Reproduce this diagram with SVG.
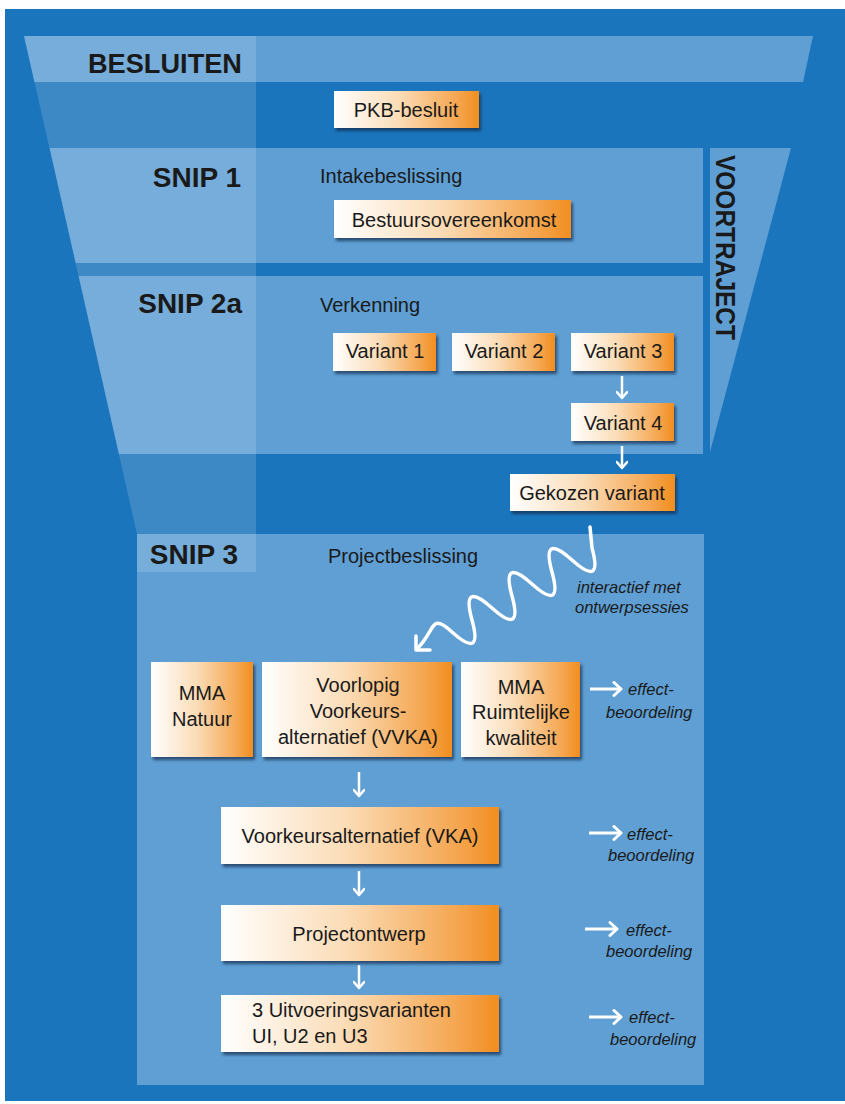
<svg xmlns="http://www.w3.org/2000/svg" width="845" height="1104" viewBox="0 0 845 1104">
<defs>
<style>
.band{fill:#5f9fd4}
.col{fill:#ffffff;fill-opacity:0.15}
.box{fill:url(#og);filter:url(#sh)}
.h{font-family:"Liberation Sans",Arial,sans-serif;font-weight:bold;font-size:28px;fill:#1a1a1a}
.t{font-family:"Liberation Sans",Arial,sans-serif;font-size:20px;fill:#1a1a1a}
.c{text-anchor:middle}
.i{font-family:"Liberation Sans",Arial,sans-serif;font-style:italic;font-size:16.5px;fill:#1a1a1a}
.ar{fill:none;stroke:#ffffff;stroke-width:2.5}
.arr{fill:none;stroke:#ffffff;stroke-width:3}
</style>
<linearGradient id="og" x1="0" y1="0" x2="1" y2="0">
<stop offset="0" stop-color="#ffffff"/>
<stop offset="0.45" stop-color="#fbdcb6"/>
<stop offset="0.85" stop-color="#f5a650"/>
<stop offset="1" stop-color="#f18e1f"/>
</linearGradient>
<filter id="sh" x="-10%" y="-10%" width="130%" height="140%">
<feDropShadow dx="2" dy="3" stdDeviation="1.5" flood-color="#0d2a4a" flood-opacity="0.7"/>
</filter>
<marker id="hd" viewBox="0 0 12 12" refX="10" refY="6" markerWidth="12" markerHeight="12" markerUnits="userSpaceOnUse" orient="auto">
<path d="M4,0.8 L10,6 L4,11.2" fill="none" stroke="#ffffff" stroke-width="2.5" stroke-linecap="round" stroke-linejoin="round"/>
</marker>
<marker id="hr" viewBox="0 0 16 16" refX="13" refY="8" markerWidth="16" markerHeight="16" markerUnits="userSpaceOnUse" orient="auto">
<path d="M6,1.5 L13,8 L6,14.5" fill="none" stroke="#ffffff" stroke-width="3" stroke-linecap="round" stroke-linejoin="round"/>
</marker>
</defs>

<g id="background">
<rect x="5" y="9" width="840" height="1092" fill="#1b75bc"/>
<polygon class="band" points="24,36 813,36 803,82 34.4,82"/>
<polygon class="band" points="49.6,148 703,148 703,263 75.7,263"/>
<polygon class="band" points="78.6,276 703,276 703,454 118.9,454"/>
<polygon class="band" points="710,148 791,148 710,452"/>
<rect class="band" x="137" y="534" width="567" height="551"/>
<polygon class="col" points="24,36 256,36 256,572 137,572 137,534"/>
</g>

<g id="labels">
<text class="h" x="242" y="73" text-anchor="end" textLength="154" lengthAdjust="spacingAndGlyphs">BESLUITEN</text>
<text class="h" x="241" y="187" text-anchor="end">SNIP 1</text>
<text class="h" x="242" y="313" text-anchor="end">SNIP 2a</text>
<text class="h" x="238" y="564" text-anchor="end">SNIP 3</text>
<text class="h" transform="translate(716,155) rotate(90)" font-size="26" textLength="185" lengthAdjust="spacingAndGlyphs">VOORTRAJECT</text>
<text class="t" x="320" y="183">Intakebeslissing</text>
<text class="t" x="320" y="312">Verkenning</text>
<text class="t" x="328" y="563">Projectbeslissing</text>
<text class="i" x="577" y="593">interactief met</text>
<text class="i" x="575" y="613">ontwerpsessies</text>
</g>

<g id="connectors">
<path class="ar" d="M622,376 L622,398" marker-end="url(#hd)"/>
<path class="ar" d="M622,446 L622,468" marker-end="url(#hd)"/>
<path class="ar" d="M359,772 L359,796" marker-end="url(#hd)"/>
<path class="ar" d="M359,871 L359,895" marker-end="url(#hd)"/>
<path class="ar" d="M359,965 L359,988" marker-end="url(#hd)"/>
<path d="M590,527 L592,548 Q603,588 572,560 T552,572 T532,584 T512,596 T492,608 T472,620 T452,632 C430,612 436,630 417,649" fill="none" stroke="#ffffff" stroke-width="3.5" stroke-linecap="round"/>
<path d="M430,650 L416,650 L416,636" fill="none" stroke="#ffffff" stroke-width="3.5" stroke-linecap="round" stroke-linejoin="round"/>
<path class="arr" d="M590,689 L621,689" marker-end="url(#hr)"/>
<path class="arr" d="M589,833 L621,833" marker-end="url(#hr)"/>
<path class="arr" d="M585,929 L617,929" marker-end="url(#hr)"/>
<path class="arr" d="M589,1017 L621,1017" marker-end="url(#hr)"/>
<text class="i" x="628" y="695">effect-</text>
<text class="i" x="606" y="718">beoordeling</text>
<text class="i" x="627" y="840">effect-</text>
<text class="i" x="608" y="861">beoordeling</text>
<text class="i" x="626" y="936">effect-</text>
<text class="i" x="606" y="957">beoordeling</text>
<text class="i" x="629" y="1023">effect-</text>
<text class="i" x="610" y="1045">beoordeling</text>
</g>

<g id="pkb"><rect class="box" x="334" y="91" width="145" height="37"/><text class="t c" x="406" y="117">PKB-besluit</text></g>
<g id="bestuursovereenkomst"><rect class="box" x="334" y="200" width="237" height="38"/><text class="t c" x="454" y="227">Bestuursovereenkomst</text></g>
<g id="variant1"><rect class="box" x="333" y="333" width="103" height="38"/><text class="t c" x="385" y="358">Variant 1</text></g>
<g id="variant2"><rect class="box" x="452" y="333" width="103" height="38"/><text class="t c" x="504" y="358">Variant 2</text></g>
<g id="variant3"><rect class="box" x="571" y="333" width="103" height="38"/><text class="t c" x="623" y="358">Variant 3</text></g>
<g id="variant4"><rect class="box" x="571" y="403" width="103" height="38"/><text class="t c" x="623" y="430">Variant 4</text></g>
<g id="gekozen"><rect class="box" x="510" y="474" width="165" height="37"/><text class="t c" x="592" y="500">Gekozen variant</text></g>
<g id="mma-natuur"><rect class="box" x="151" y="662" width="102" height="95"/><text class="t c" x="202" y="700">MMA</text><text class="t c" x="202" y="726">Natuur</text></g>
<g id="vvka"><rect class="box" x="262" y="662" width="190" height="95"/><text class="t c" x="358" y="692">Voorlopig</text><text class="t c" x="358" y="718">Voorkeurs-</text><text class="t c" x="358" y="744">alternatief (VVKA)</text></g>
<g id="mma-rk"><rect class="box" x="461" y="662" width="119" height="95"/><text class="t c" x="521" y="694">MMA</text><text class="t c" x="521" y="719">Ruimtelijke</text><text class="t c" x="521" y="745">kwaliteit</text></g>
<g id="vka"><rect class="box" x="221" y="807" width="278" height="57"/><text class="t c" x="360" y="843">Voorkeursalternatief (VKA)</text></g>
<g id="projectontwerp"><rect class="box" x="221" y="905" width="278" height="56"/><text class="t c" x="359" y="941">Projectontwerp</text></g>
<g id="uitvoeringsvarianten"><rect class="box" x="221" y="995" width="278" height="57"/><text class="t" x="252" y="1017">3 Uitvoeringsvarianten</text><text class="t" x="252" y="1043">UI, U2 en U3</text></g>
</svg>
